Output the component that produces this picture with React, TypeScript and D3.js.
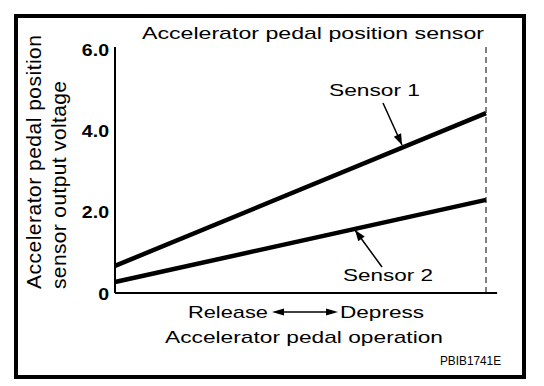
import * as d3 from "d3";

const pedal = [0, 100];
const sensor1 = [0.67, 4.44];
const sensor2 = [0.27, 2.3];
const yTicks = [0, 2, 4, 6];
const yTickLabels = ["0", "2.0", "4.0", "6.0"];

const W = 544;
const H = 386;
const font = "'Liberation Sans', Arial, Helvetica, sans-serif";

export default function App() {
  const x = d3.scaleLinear().domain([0, 100]).range([115, 486]);
  const y = d3.scaleLinear().domain([0, 6]).range([293, 50]);

  const line = d3
    .line<number>()
    .x((_, i) => x(pedal[i]))
    .y(d => y(d));

  const arrowHead = (x1: number, y1: number, x2: number, y2: number, len = 11, w = 4) => {
    const a = Math.atan2(y2 - y1, x2 - x1);
    const bx = x2 - len * Math.cos(a);
    const by = y2 - len * Math.sin(a);
    const px = -Math.sin(a) * w;
    const py = Math.cos(a) * w;
    return `M${x2},${y2}L${bx + px},${by + py}L${bx - px},${by - py}Z`;
  };

  // source art is stretched sideways, so fit each label to its measured width
  const Label = ({ x0, y0, w, size = 17, children }: any) => (
    <text x={x0} y={y0} textLength={w} lengthAdjust="spacingAndGlyphs" fontFamily={font} fontSize={size}>
      {children}
    </text>
  );

  const leaders = [
    { x1: 383, y1: 103, x2: 402, y2: 145 },
    { x1: 382, y1: 267, x2: 355, y2: 230 },
  ];

  return (
    <svg width={W} height={H} style={{ position: "absolute", left: 0, top: 0, background: "#fff" }}>
      <rect x={16} y={16} width={508} height={361} fill="none" stroke="#000" strokeWidth={4} />

      <Label x0={142} y0={38.5} w={342}>Accelerator pedal position sensor</Label>

      {/* axes */}
      <line x1={x(0)} x2={x(0)} y1={y(0)} y2={y(6) - 3} stroke="#000" strokeWidth={2} />
      <line x1={x(0)} x2={x(103)} y1={y(0)} y2={y(0)} stroke="#000" strokeWidth={2} />
      <line x1={x(100)} x2={x(100)} y1={y(0)} y2={y(6) - 4} stroke="#000" strokeWidth={1} strokeDasharray="6,4" />

      {yTicks.map((t, i) => (
        <text
          key={t}
          transform={`translate(109,${y(t) + (t === 0 ? 7 : 6)}) scale(1.15,1)`}
          textAnchor="end"
          fontFamily={font}
          fontWeight="bold"
          fontSize={17}
        >
          {yTickLabels[i]}
        </text>
      ))}

      <g transform="translate(41,289) rotate(-90)" fontFamily={font} fontSize={21}>
        <text x={0} y={0} textLength={254} lengthAdjust="spacing">Accelerator pedal position</text>
        <text x={0} y={25} textLength={208} lengthAdjust="spacing">sensor output voltage</text>
      </g>

      <path d={line(sensor1) ?? ""} fill="none" stroke="#000" strokeWidth={4.5} />
      <path d={line(sensor2) ?? ""} fill="none" stroke="#000" strokeWidth={4.5} />

      {leaders.map((l, i) => (
        <g key={i}>
          <line x1={l.x1} y1={l.y1} x2={l.x2} y2={l.y2} stroke="#000" strokeWidth={1.5} />
          <path d={arrowHead(l.x1, l.y1, l.x2, l.y2)} fill="#000" />
        </g>
      ))}

      <Label x0={329} y0={96} w={91}>Sensor 1</Label>
      <Label x0={343} y0={281} w={90}>Sensor 2</Label>

      <Label x0={188} y0={317.5} w={80}>Release</Label>
      <line x1={276} x2={334} y1={312} y2={312} stroke="#000" strokeWidth={1.5} />
      <path d={arrowHead(305, 312, 272, 312, 12, 3.5)} fill="#000" />
      <path d={arrowHead(305, 312, 338, 312, 12, 3.5)} fill="#000" />
      <Label x0={340} y0={317.5} w={84}>Depress</Label>

      <Label x0={165} y0={342.5} w={278}>Accelerator pedal operation</Label>

      <Label x0={440} y0={365} w={61} size={12}>PBIB1741E</Label>
    </svg>
  );
}
